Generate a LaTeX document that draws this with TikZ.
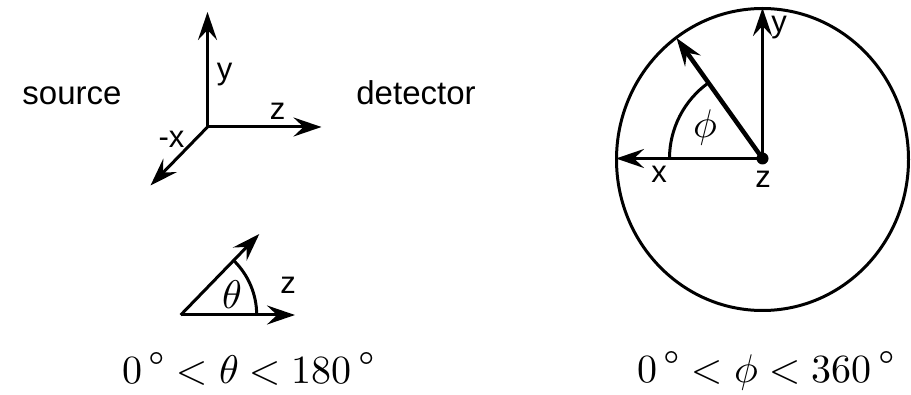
\documentclass[tikz,border=0pt]{standalone}
\usepackage{fontspec}
\usepackage{unicode-math}
\setmathfont{Latin Modern Math}
\setsansfont{Liberation Sans}
\usetikzlibrary{arrows.meta}
\newcommand{\dg}{\,^{\textstyle\circ}}
\begin{document}
\begin{tikzpicture}[x=1pt,y=1pt,
  ax/.style={line width=3pt,-{Stealth[length=28pt,width=19pt,inset=10pt]}},
  thin/.style={line width=3pt},
  lbl/.style={inner sep=0pt,font=\sffamily\fontsize{31}{35}\selectfont},
  word/.style={inner sep=0pt,font=\sffamily\fontsize{33}{38}\selectfont,anchor=base},
  mth/.style={inner sep=0pt,font=\fontsize{40}{46}\selectfont}]
\useasboundingbox (0,0) rectangle (911,394);
% left axes
\coordinate (O) at (207.5,267);
\coordinate (Ytip) at (207.5,382);
\coordinate (Ztip) at (321.5,267);
\coordinate (Xtip) at (150.5,208.5);
\draw[ax] (O) -- (Ytip);
\draw[ax] (O) -- (Ztip);
\draw[ax] (O) -- (Xtip);
\node[lbl] (ly) at (224.5,319) {y};
\node[lbl] (lz) at (277.5,283) {z};
\node[lbl] (lx) at (171.5,255) {-x};
\node[word] (src) at (72,289) {source};
\node[word] (det) at (416,289) {detector};
% theta
\coordinate (T) at (180.7,79);
\coordinate (Th) at (295,79);
\coordinate (Td) at (259.3,160);
\draw[ax] (T) -- (Th);
\draw[ax] (T) -- (Td);
\draw[thin] (T) ++(0:76) arc[start angle=0,end angle=46,radius=76];
\node[mth] (th) at (231.7,99) {$\theta$};
\node[lbl] (tz) at (288,109) {z};
\node[mth,anchor=base west] (rt) at (122,11) {$0\dg<\theta<180\dg$};
% circle
\coordinate (C) at (762.5,235.5);
\draw[thin] (762.5,234.5) ellipse[x radius=146,y radius=151];
\coordinate (Cy) at (762.5,386);
\coordinate (Cx) at (616,235.5);
\coordinate (Cd) at (676.5,356);
\draw[ax] (C) -- (Cy);
\draw[ax] (C) -- (Cx);
\draw[ax,line width=4.5pt] (C) -- (Cd);
\draw[thin] (C) ++(180:93) arc[start angle=180,end angle=125.5,radius=93];
\fill (C) circle[radius=6];
\node[lbl] (cy) at (779,366) {y};
\node[lbl] (cx) at (659,220) {x};
\node[lbl] (cz) at (763,215) {z};
\node[mth] (ph) at (706,266) {$\phi$};
\node[mth,anchor=base west] (rp) at (637,12) {$0\dg<\phi<360\dg$};
\end{tikzpicture}
\end{document}
